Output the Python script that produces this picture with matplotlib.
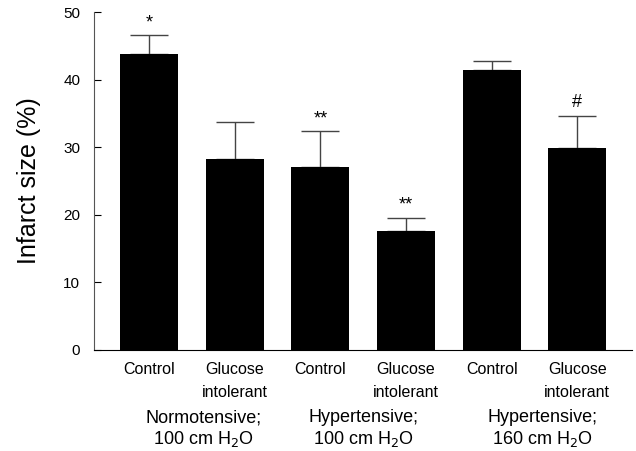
import matplotlib
matplotlib.use("Agg")
import matplotlib.pyplot as plt
import numpy as np

plt.rcParams['font.family'] = ['Liberation Sans', 'DejaVu Sans']

# data
bar_labels = ["Control", "Glucose\nintolerant", "Control", "Glucose\nintolerant",
              "Control", "Glucose\nintolerant"]
infarct = [43.8, 28.2, 27.1, 17.6, 41.4, 29.9]
sem = [2.8, 5.5, 5.3, 2.0, 1.3, 4.8]
marks = ["*", "", "**", "**", "", "#"]
groups = ["Normotensive;\n100 cm H$_2$O", "Hypertensive;\n100 cm H$_2$O",
          "Hypertensive;\n160 cm H$_2$O"]
group_shift = [0.14, 0.0, 0.09]   # small offsets as in the original layout

fig = plt.figure(figsize=(6.36, 4.51), dpi=100)
ax = fig.add_axes([0.148, 0.224, 0.846, 0.749])

x = np.arange(len(infarct))
ax.bar(x, infarct, width=0.68, color='black', zorder=2)
ax.errorbar(x, infarct, yerr=[np.zeros(len(sem)), sem], fmt='none',
            ecolor='#444444', elinewidth=1.0, capsize=14, capthick=1.0, zorder=1)

for xi, v, s, m in zip(x, infarct, sem, marks):
    if m:
        ax.text(xi, v + s + 0.6, m, ha='center', va='bottom', fontsize=13)

ax.set_xlim(-0.64, 5.64)
ax.set_ylim(0, 50)
ax.set_yticks([0, 10, 20, 30, 40, 50])
ax.tick_params(axis='y', direction='in', length=5, labelsize=11, pad=10)
ax.set_xticks(x)
ax.set_xticklabels(bar_labels, fontsize=11.5, linespacing=1.6)
ax.tick_params(axis='x', length=0, pad=9)
ax.spines['top'].set_visible(False)
ax.spines['right'].set_visible(False)
ax.spines['left'].set_color('#555555')
ax.set_ylabel("Infarct size (%)", fontsize=18, labelpad=16)

for gi, g in enumerate(groups):
    ax.text(2 * gi + 0.5 + group_shift[gi], -0.176, g,
            transform=ax.get_xaxis_transform(),
            ha='center', va='top', fontsize=13, linespacing=1.15)

fig.savefig("out.png", dpi=100)
